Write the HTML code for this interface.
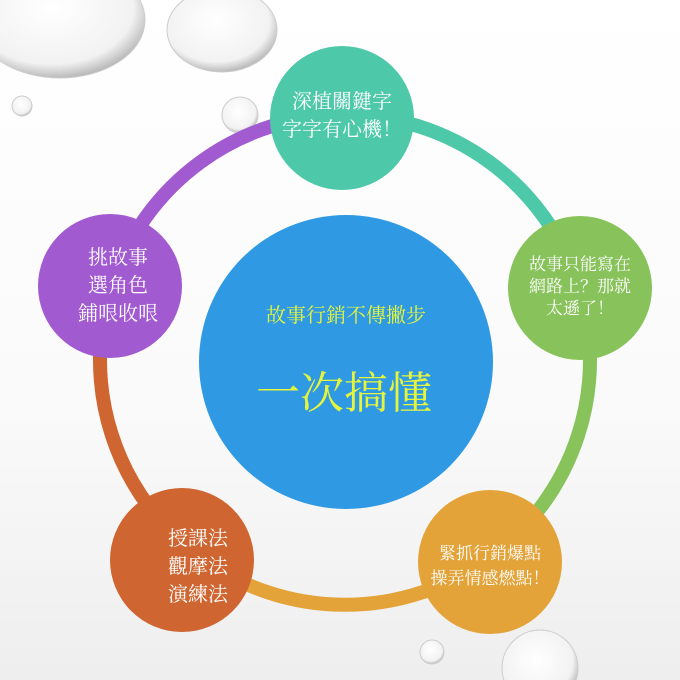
<!DOCTYPE html>
<html><head><meta charset="utf-8"><style>
body{margin:0;width:680px;height:680px;overflow:hidden;background:linear-gradient(180deg,#fff 0%,#fafafa 60%,#eee 100%);}
svg{display:block}
text{font-family:"Liberation Serif","Noto Serif CJK SC","Noto Sans CJK TC",serif;fill:#fff;text-anchor:middle}
</style></head><body>
<svg width="680" height="680" viewBox="0 0 680 680">
<defs>
<radialGradient id="d" cx="45%" cy="40%" r="60%"><stop offset="0" stop-color="#fff"/><stop offset="0.8" stop-color="#f2f2f2"/><stop offset="1" stop-color="#bbb"/></radialGradient>
</defs>
<ellipse cx="60" cy="20" rx="85" ry="58" fill="url(#d)" stroke="#ccc"/>
<ellipse cx="222" cy="30" rx="55" ry="42" fill="url(#d)" stroke="#ccc"/>
<circle cx="22" cy="106" r="10" fill="url(#d)" stroke="#ccc"/>
<circle cx="240" cy="115" r="18" fill="url(#d)" stroke="#ccc"/>
<circle cx="540" cy="668" r="38" fill="url(#d)" stroke="#ccc"/>
<circle cx="432" cy="652" r="12" fill="url(#d)" stroke="#ccc"/>
<g fill="none" stroke-width="14">
<path d="M345 115 A245 245 0 0 1 578 284" stroke="#4dc9a9"/>
<path d="M578 284 A245 245 0 0 1 489 558" stroke="#87c35a"/>
<path d="M489 558 A245 245 0 0 1 201 558" stroke="#e3a339"/>
<path d="M201 558 A245 245 0 0 1 112 284" stroke="#cf6530"/>
<path d="M112 284 A245 245 0 0 1 345 115" stroke="#a25ad0"/>
</g>
<circle cx="346" cy="362" r="147" fill="#2f9ae3"/>
<circle cx="342" cy="118" r="72" fill="#4dc9a9"/>
<circle cx="580" cy="288" r="72" fill="#87c35a"/>
<circle cx="490" cy="562" r="72" fill="#e3a339"/>
<circle cx="182" cy="560" r="72" fill="#cf6530"/>
<circle cx="110" cy="286" r="72" fill="#a25ad0"/>
<text x="346" y="322" font-size="20" style="fill:#e5f53c">故事行銷不傳撇步</text>
<text x="344" y="408" font-size="44" style="fill:#e5f53c">一次搞懂</text>
<text x="342" y="108" font-size="20">深植關鍵字</text>
<text x="342" y="136" font-size="20">字字有心機！</text>
<text x="580" y="270" font-size="17">故事只能寫在</text>
<text x="580" y="292" font-size="17">網路上？那就</text>
<text x="580" y="314" font-size="17">太遜了！</text>
<text x="490" y="559" font-size="17">緊抓行銷爆點</text>
<text x="490" y="584" font-size="17">操弄情感燃點！</text>
<text x="198" y="545" font-size="20">授課法</text>
<text x="198" y="573" font-size="20">觀摩法</text>
<text x="198" y="601" font-size="20">演練法</text>
<text x="118" y="264" font-size="20">挑故事</text>
<text x="118" y="292" font-size="20">選角色</text>
<text x="118" y="320" font-size="20">鋪哏收哏</text>
</svg>
</body></html>
